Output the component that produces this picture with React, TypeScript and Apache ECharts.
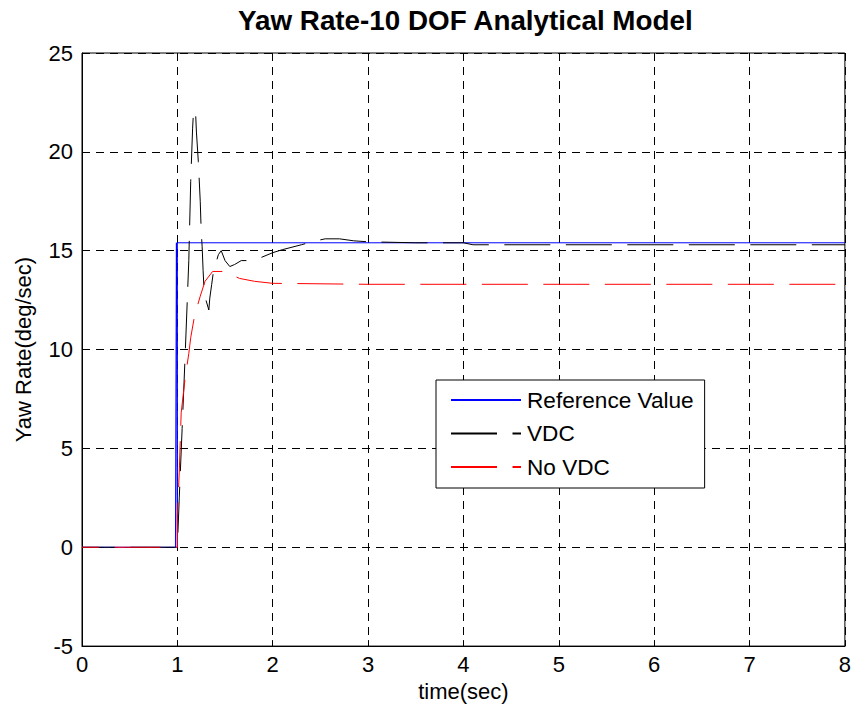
import React, { useEffect, useRef } from "react";
import * as echarts from "echarts";

const TITLE = "Yaw Rate-10 DOF Analytical Model";
const X_NAME = "time(sec)";
const Y_NAME = "Yaw Rate(deg/sec)";
const SERIES_NAMES = ["Reference Value", "VDC", "No VDC"];

// [time, yaw rate]
const referenceValue: [number, number][] = [
  [0, 0], [0.98, 0], [0.99, 15.4], [1.0, 0], [1.0, 15.4], [8, 15.4],
];

const vdc: [number, number][] = [
  [0, 0], [1.0, 0], [1.02, 2.5], [1.05, 6], [1.08, 9.5], [1.1, 12], [1.12, 14.5],
  [1.13, 16.5], [1.14, 18.5], [1.16, 21.2], [1.17, 22.1], [1.19, 22.1], [1.2, 21.0],
  [1.22, 19.5], [1.24, 17.5], [1.25, 16.0], [1.26, 15.2], [1.27, 14.0], [1.28, 13.0],
  [1.3, 12.5], [1.33, 12.0], [1.34, 12.6], [1.36, 13.3], [1.38, 14.0], [1.4, 14.3],
  [1.43, 14.8], [1.46, 15.0], [1.5, 14.5], [1.55, 14.2], [1.6, 14.3], [1.67, 14.5],
  [1.75, 14.5], [1.85, 14.6], [2.0, 14.9], [2.1, 15.05], [2.3, 15.3], [2.45, 15.5],
  [2.55, 15.6], [2.7, 15.6], [2.85, 15.5], [3.0, 15.45], [3.5, 15.4], [4.0, 15.4],
  [4.1, 15.3], [8, 15.3],
];

const noVdc: [number, number][] = [
  [0, 0], [1.0, 0], [1.0, 1.6], [1.02, 3.8], [1.04, 6.8], [1.08, 8.5], [1.12, 9.8],
  [1.14, 10.6], [1.18, 11.7], [1.24, 12.7], [1.29, 13.45], [1.37, 13.95], [1.5, 13.95],
  [1.65, 13.6], [1.81, 13.45], [2.0, 13.35], [3.0, 13.3], [8, 13.3],
];

const X_MIN = 0, X_MAX = 8, X_STEP = 1;
const Y_MIN = -5, Y_MAX = 25, Y_STEP = 5;

const FONT = "'Liberation Sans', Arial, sans-serif";
const DASH = [46, 15.5];
const GRID_DASH = [8, 6];

export default function App() {
  const ref = useRef<HTMLDivElement>(null);
  useEffect(() => {
    if (!ref.current) return;
    const chart = echarts.init(ref.current, null, { renderer: "svg" });
    const axisCommon = {
      axisLine: { show: true, onZero: false, lineStyle: { color: "#000", width: 1 } },
      axisTick: { show: true, inside: true, length: 6, lineStyle: { color: "#000" } },
      splitLine: { show: true, lineStyle: { color: "#000", width: 1, type: GRID_DASH } },
      nameTextStyle: { fontFamily: FONT, fontSize: 22, color: "#000" },
    };
    chart.setOption({
      animation: false,
      backgroundColor: "#fff",
      textStyle: { fontFamily: FONT },
      title: {
        text: TITLE,
        left: 238,
        top: 6,
        padding: 0,
        textStyle: { fontFamily: FONT, fontSize: 27.8, fontWeight: "bold", color: "#000" },
      },
      grid: {
        left: 82, right: 8, top: 53, bottom: 60,
        show: true, borderColor: "#000", borderWidth: 1, backgroundColor: "#fff",
      },
      legend: {
        orient: "vertical",
        left: 436,
        top: 380,
        padding: [8.5, 11, 9.5, 14],
        itemWidth: 70,
        itemHeight: 22,
        itemGap: 10.5,
        borderColor: "#000",
        borderWidth: 1,
        borderRadius: 0,
        backgroundColor: "#fff",
        itemStyle: { opacity: 0 },
        lineStyle: { dashOffset: 0 },
        textStyle: { fontFamily: FONT, fontSize: 22.6, color: "#000", padding: [0, 0, 0, 1] },
        data: SERIES_NAMES,
      },
      xAxis: {
        type: "value",
        min: X_MIN, max: X_MAX, interval: X_STEP,
        name: X_NAME,
        nameLocation: "middle",
        nameGap: 32,
        ...axisCommon,
        axisLabel: { fontFamily: FONT, fontSize: 22, color: "#000", margin: 7 },
      },
      yAxis: {
        type: "value",
        min: Y_MIN, max: Y_MAX, interval: Y_STEP,
        name: Y_NAME,
        nameLocation: "middle",
        nameGap: 48,
        ...axisCommon,
        axisLabel: { fontFamily: FONT, fontSize: 22, color: "#000", margin: 9 },
      },
      series: [
        {
          name: SERIES_NAMES[0], type: "line", data: referenceValue, symbol: "none",
          lineStyle: { color: "#0000ff", width: 1 }, itemStyle: { color: "#0000ff" },
        },
        {
          name: SERIES_NAMES[1], type: "line", data: vdc, symbol: "none",
          lineStyle: { color: "#000000", width: 1, type: DASH, dashOffset: 12.6 },
          itemStyle: { color: "#000000" },
        },
        {
          name: SERIES_NAMES[2], type: "line", data: noVdc, symbol: "none",
          lineStyle: { color: "#ff0000", width: 1, type: DASH, dashOffset: 28.9 },
          itemStyle: { color: "#ff0000" },
        },
      ],
    });
    return () => chart.dispose();
  }, []);
  return (
    <div
      ref={ref}
      style={{ position: "fixed", left: 0, top: 0, width: 854, height: 707, background: "#fff" }}
    />
  );
}
